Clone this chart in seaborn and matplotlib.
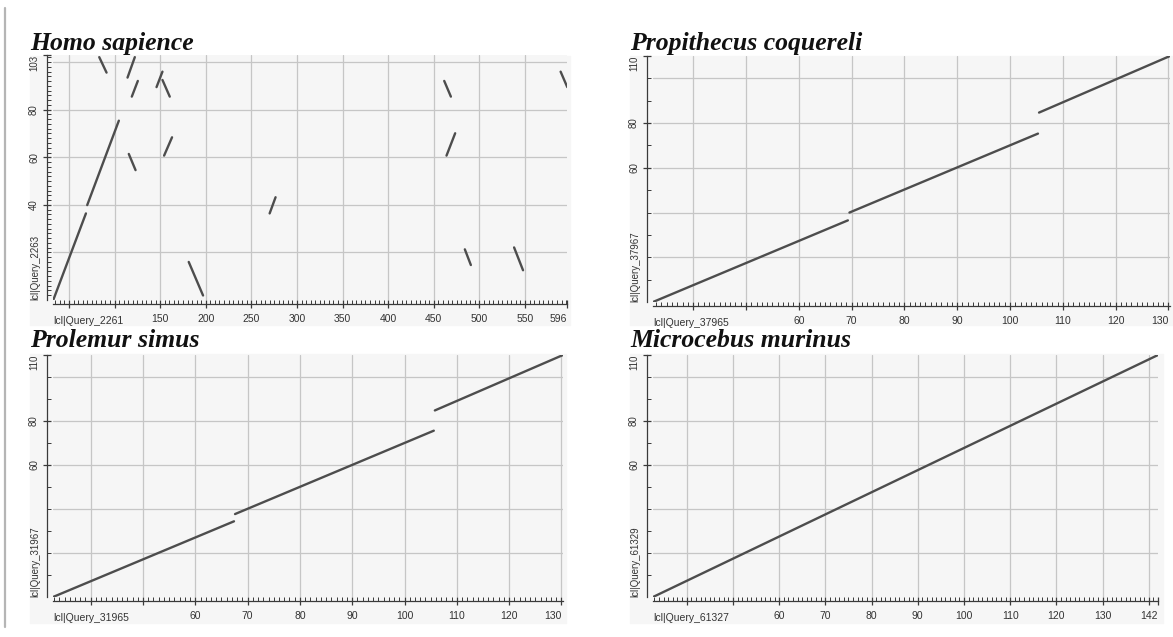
import numpy as np
import pandas as pd
import matplotlib
matplotlib.use("Agg")
import matplotlib.pyplot as plt
import seaborn as sns
from matplotlib.patches import Rectangle
from matplotlib.lines import Line2D

# ---- data: dot-plot segments (x0, y0) -> (x1, y1) ----
homo_x0 = [32.8, 70.0, 83.2, 114.2, 118.9, 146.0, 152.5, 154.3, 115.6, 181.3, 270.0, 461.4, 463.9, 484.0, 538.0, 589.0]
homo_y0 = [0.0, 39.9, 102.1, 93.5, 85.5, 89.5, 92.5, 60.7, 61.4, 16.0, 36.4, 92.1, 60.7, 21.3, 22.1, 96.0]
homo_x1 = [68.6, 104.7, 91.2, 122.2, 125.5, 152.5, 160.5, 163.0, 123.0, 197.0, 276.5, 468.7, 473.4, 490.6, 547.8, 596.3]
homo_y1 = [36.4, 75.4, 95.6, 102.1, 92.1, 96.0, 85.5, 68.4, 54.6, 1.9, 43.2, 85.5, 70.1, 14.7, 12.5, 89.5]

prop_x0 = [32.4, 69.6, 105.5]
prop_y0 = [0.0, 40.0, 84.7]
prop_x1 = [69.3, 105.3, 130.3]
prop_y1 = [36.5, 75.3, 110.0]

prol_x0 = [32.8, 67.6, 105.8]
prol_y0 = [0.0, 37.7, 84.8]
prol_x1 = [67.4, 105.6, 130.3]
prol_y1 = [34.4, 75.6, 110.0]

micro_x0 = [32.7]
micro_y0 = [0.0]
micro_x1 = [142.0]
micro_y1 = [110.0]

titles = ["Homo sapience", "Propithecus coquereli", "Prolemur simus", "Microcebus murinus"]
x_names = ["lcl|Query_2261", "lcl|Query_37965", "lcl|Query_31965", "lcl|Query_61327"]
y_names = ["lcl|Query_2263", "lcl|Query_37967", "lcl|Query_31967", "lcl|Query_61329"]

# ---- style ----
W, H = 1173, 637
BG = "#f6f6f6"
GRID = "#c6c6c6"
LINE = "#4d4d4d"
TICK = "#3a3a3a"

sns.set_style("white")
plt.rcParams["font.family"] = ["Liberation Sans", "DejaVu Sans"]

fig = plt.figure(figsize=(W / 100, H / 100), dpi=100)


def px_rect(left, top, right, bottom):
    return [left / W, 1 - bottom / H, (right - left) / W, (bottom - top) / H]


def panel(ax, x0, y0, x1, y1, xlim, ylim, xgrid, ygrid,
          xmaj, xlab, xmin, ymaj, ylab, ymin, xname, yname):
    ax.set_facecolor(BG)
    for v in xgrid:
        ax.axvline(v, color=GRID, lw=0.9, zorder=0)
    for v in ygrid:
        ax.axhline(v, color=GRID, lw=0.9, zorder=0)

    seg = pd.DataFrame({
        "seg": np.repeat(np.arange(len(x0)), 2),
        "x": np.column_stack([x0, x1]).ravel(),
        "y": np.column_stack([y0, y1]).ravel(),
    })
    sns.lineplot(data=seg, x="x", y="y", units="seg", estimator=None, sort=False,
                 color=LINE, lw=1.7, ax=ax, legend=False)

    ax.set_xlim(*xlim)
    ax.set_ylim(*ylim)
    ax.set_xlabel("")
    ax.set_ylabel("")
    ax.set_xticks(xmaj)
    ax.set_xticklabels(xlab)
    ax.set_xticks(xmin, minor=True)
    ax.set_yticks(ymaj)
    ax.set_yticklabels(ylab)
    ax.set_yticks(ymin, minor=True)

    for s in ["top", "right"]:
        ax.spines[s].set_visible(False)
    ax.spines["left"].set_position(("outward", 4.5))
    ax.spines["bottom"].set_position(("outward", 3))
    for s in ["left", "bottom"]:
        ax.spines[s].set_color(TICK)
        ax.spines[s].set_linewidth(0.9)

    ax.tick_params(which="both", bottom=True, left=True, top=False, right=False)
    ax.tick_params(which="major", direction="inout", length=6, width=0.9,
                   color=TICK, labelcolor="#333333", labelsize=7.5)
    ax.tick_params(which="minor", direction="in", length=2.8, width=0.7, color=TICK)
    ax.tick_params(axis="x", which="major", pad=4)
    ax.tick_params(axis="y", which="major", labelrotation=90, labelsize=7, pad=2.5)
    ylabels = ax.get_yticklabels()
    for t in ylabels:
        t.set_va("center")
    ylabels[-1].set_va("top")
    ax.get_xticklabels()[-1].set_ha("right")

    ax.annotate(xname, xy=(0, 0), xycoords="axes fraction", xytext=(0, -16),
                textcoords="offset pixels", ha="left", va="top",
                fontsize=7.5, color="#333333")
    ax.annotate(yname, xy=(0, 0), xycoords="axes fraction", xytext=(-18, 0),
                textcoords="offset pixels", ha="center", va="bottom",
                rotation=90, fontsize=7, color="#333333")


# panel backgrounds (plot + tick label area)
for (l, t, r, b) in [(30, 56, 570, 325), (630, 56, 1172, 325),
                     (30, 354, 566, 623), (630, 354, 1163, 623)]:
    fig.add_artist(Rectangle((l / W, 1 - b / H), (r - l) / W, (b - t) / H,
                             transform=fig.transFigure, color=BG, zorder=0))

fig.add_artist(Line2D([5 / W, 5 / W], [1 - 8 / H, 1 - 627 / H],
                      transform=fig.transFigure, color="#b5b5b5", lw=1.6))

# Homo sapience
ax = fig.add_axes(px_rect(53, 55, 567, 300))
hx = list(range(50, 551, 50)) + [596]
panel(ax, homo_x0, homo_y0, homo_x1, homo_y1, (32.5, 596), (0, 103),
      list(range(50, 551, 50)), [20, 40, 60, 80, 100],
      hx, ["" if v < 150 else str(v) for v in hx], np.arange(35, 596, 5),
      [40, 60, 80, 103], ["40", "60", "80", "103"], np.arange(2, 103, 2),
      x_names[0], y_names[0])

qy_maj = [60, 80, 110]
qy_min = [10, 20, 30, 40, 50, 70, 90, 100]
qy_grid = [20, 40, 60, 80, 100]

# Propithecus coquereli
ax = fig.add_axes(px_rect(653, 56, 1170, 302))
tx = list(range(40, 131, 10))
panel(ax, prop_x0, prop_y0, prop_x1, prop_y1, (32.4, 130.3), (0, 110),
      tx, qy_grid, tx, ["" if v < 60 else str(v) for v in tx], np.arange(33, 131, 1),
      qy_maj, [str(v) for v in qy_maj], qy_min, x_names[1], y_names[1])

# Prolemur simus
ax = fig.add_axes(px_rect(53, 355, 563, 597))
panel(ax, prol_x0, prol_y0, prol_x1, prol_y1, (32.8, 130.3), (0, 110),
      tx, qy_grid, tx, ["" if v < 60 else str(v) for v in tx], np.arange(33, 131, 1),
      qy_maj, [str(v) for v in qy_maj], qy_min, x_names[2], y_names[2])

# Microcebus murinus
ax = fig.add_axes(px_rect(653, 355, 1158, 597))
mx = list(range(40, 141, 10)) + [142]
panel(ax, micro_x0, micro_y0, micro_x1, micro_y1, (32.7, 142), (0, 110),
      list(range(40, 141, 10)), qy_grid, mx,
      ["" if (v < 60 or v == 140) else str(v) for v in mx], np.arange(33, 142, 1),
      qy_maj, [str(v) for v in qy_maj], qy_min, x_names[3], y_names[3])

# titles
for (x, y), title in zip([(30, 50), (630, 50), (30, 347), (630, 347)], titles):
    fig.text(x / W, 1 - y / H, title, family=["Liberation Serif", "DejaVu Serif"],
             style="italic", fontweight="bold", fontsize=18.5, va="baseline",
             ha="left", color="#111111")

fig.savefig("out.png", dpi=100)
